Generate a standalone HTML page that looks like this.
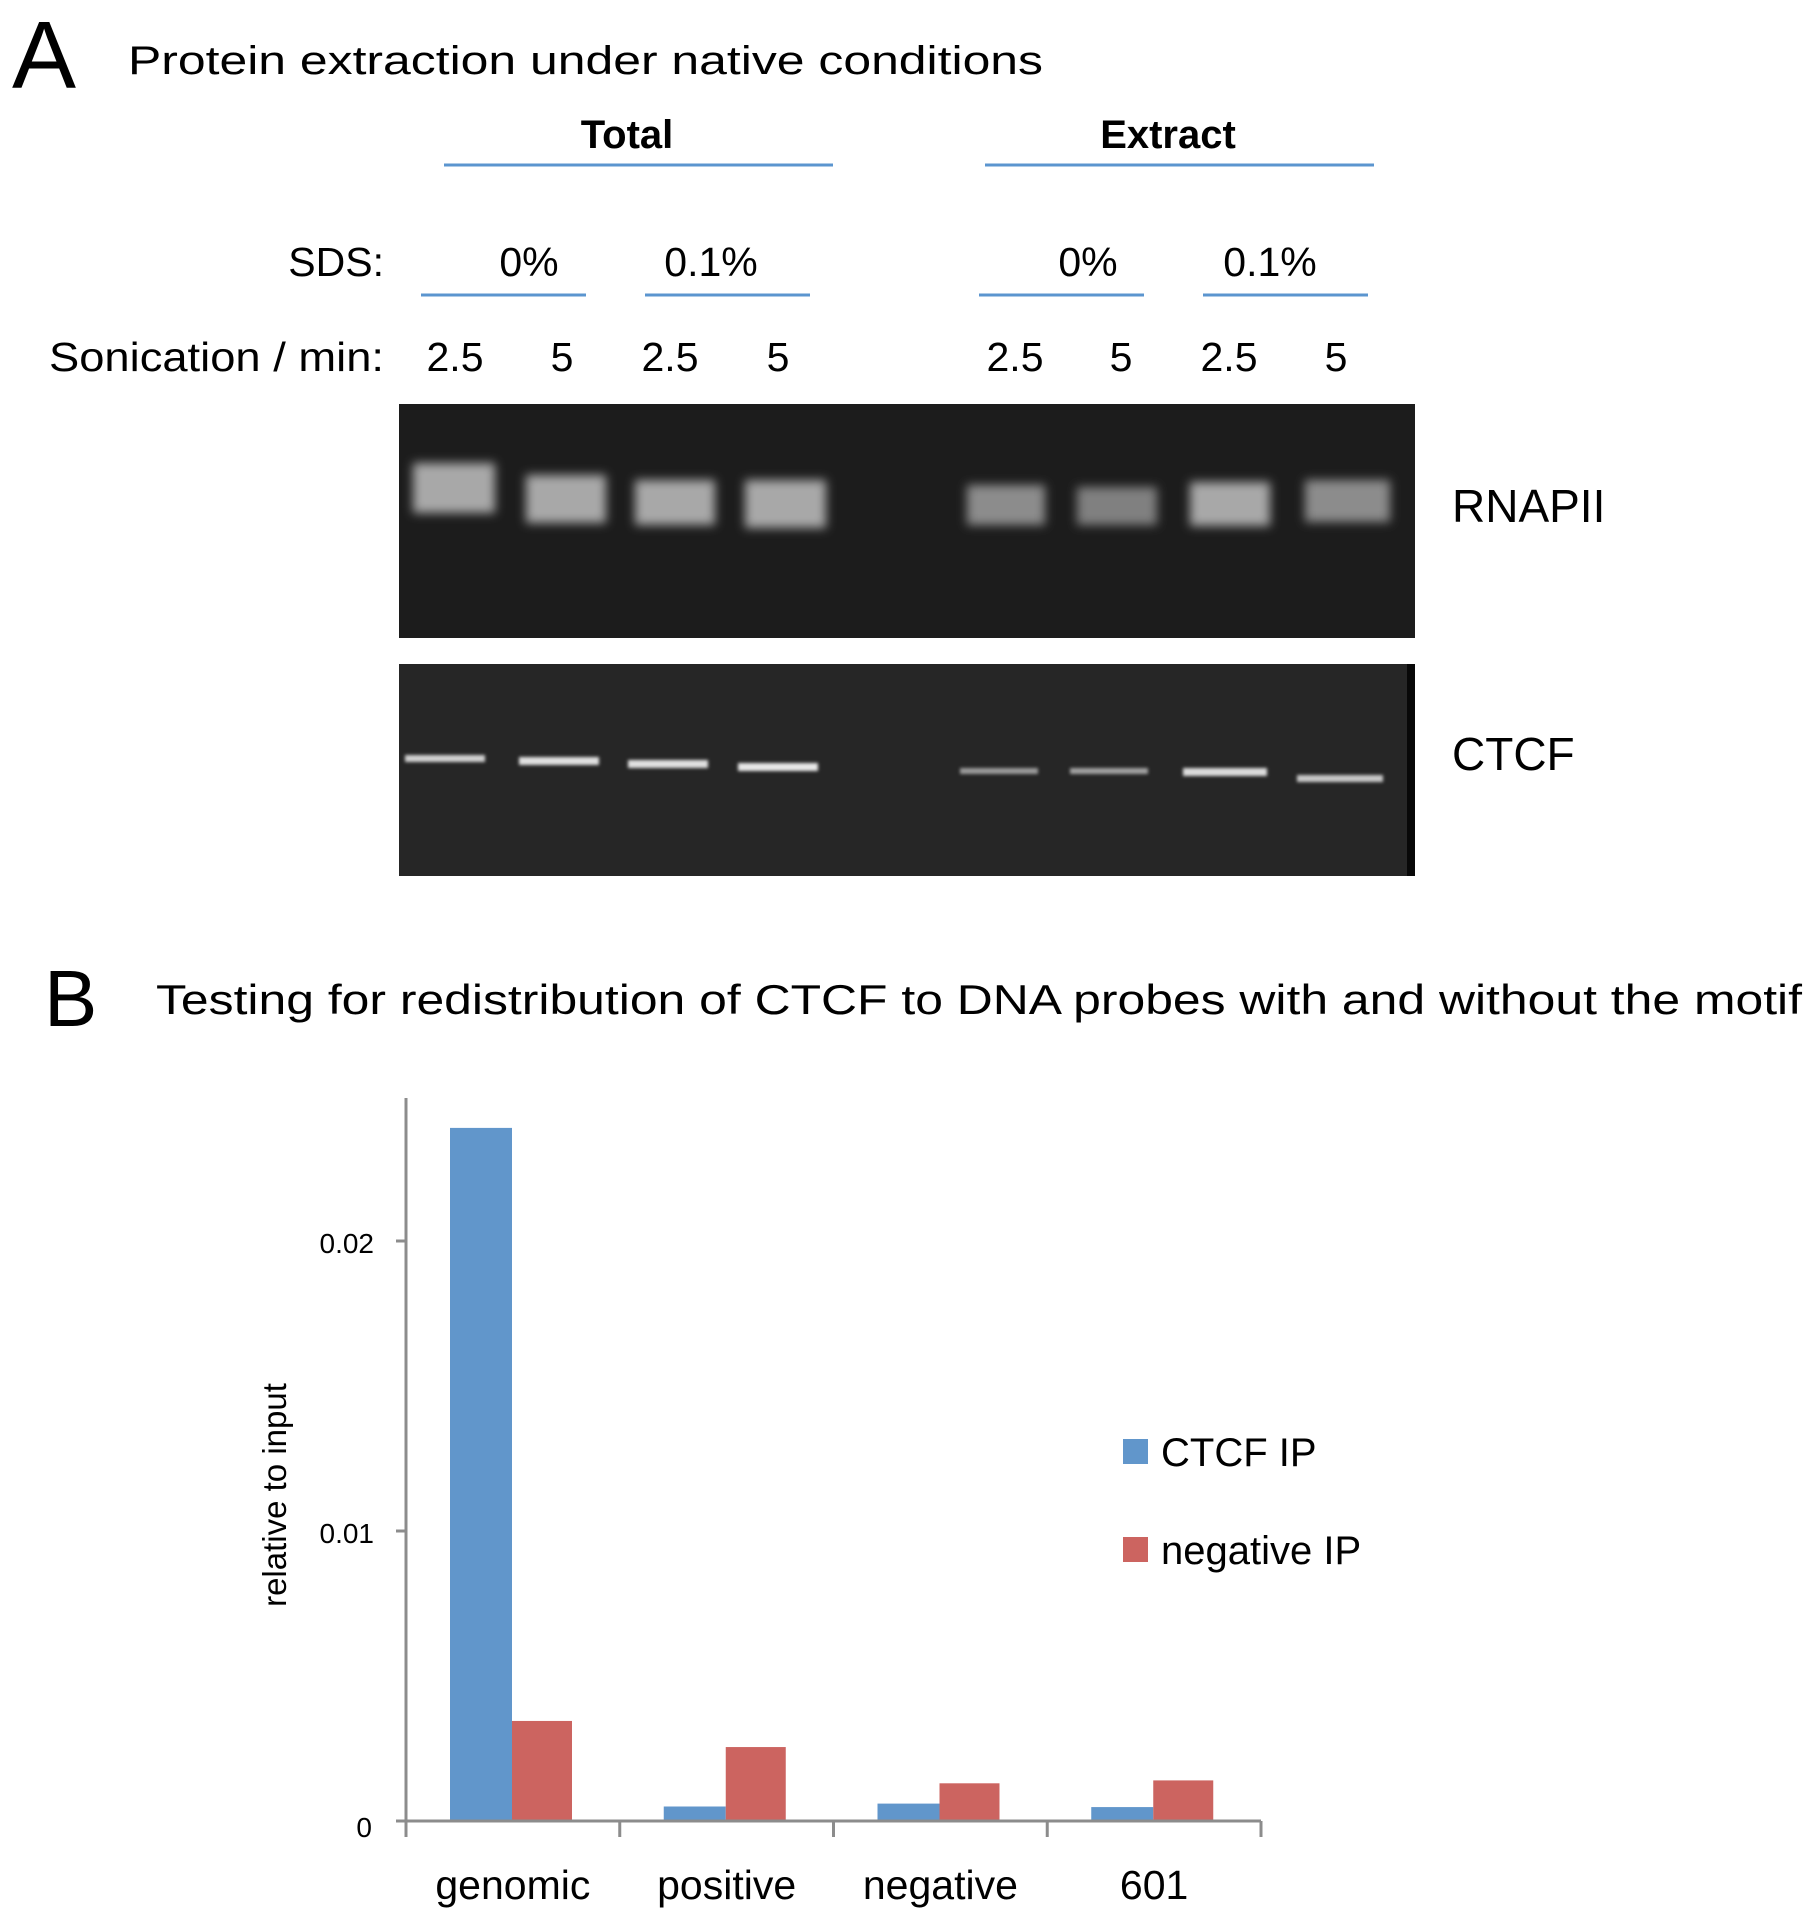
<!DOCTYPE html>
<html><head><meta charset="utf-8"><style>
html,body{margin:0;padding:0;background:#fff;}
svg{display:block;font-family:"Liberation Sans",sans-serif;}
</style></head><body>
<svg id="fig" width="1811" height="1923" viewBox="0 0 1811 1923" xmlns="http://www.w3.org/2000/svg">
<defs>
<filter id="blur6" x="-20%" y="-50%" width="140%" height="200%"><feGaussianBlur stdDeviation="5"/></filter>
<filter id="blur2" x="-10%" y="-100%" width="120%" height="300%"><feGaussianBlur stdDeviation="1.5"/></filter>
</defs>
<!-- Panel A -->
<text x="12" y="88" font-size="96">A</text>
<text x="128" y="74" font-size="40" textLength="915" lengthAdjust="spacingAndGlyphs">Protein extraction under native conditions</text>
<text x="627" y="148" font-size="40" font-weight="bold" text-anchor="middle">Total</text>
<text x="1168" y="148" font-size="40" font-weight="bold" text-anchor="middle">Extract</text>
<g stroke="#5b95cf" stroke-width="3">
<line x1="444" y1="165" x2="833" y2="165"/><line x1="985" y1="165" x2="1374" y2="165"/>
<line x1="421" y1="295" x2="586" y2="295"/><line x1="645" y1="295" x2="810" y2="295"/>
<line x1="979" y1="295" x2="1144" y2="295"/><line x1="1203" y1="295" x2="1368" y2="295"/>
</g>
<text x="384" y="276" font-size="41" text-anchor="end">SDS:</text>
<g font-size="41" text-anchor="middle">
<text x="529" y="276">0%</text><text x="711" y="276">0.1%</text>
<text x="1088" y="276">0%</text><text x="1270" y="276">0.1%</text>
</g>
<text x="49" y="371" font-size="41" textLength="335" lengthAdjust="spacingAndGlyphs">Sonication / min:</text>
<g font-size="41" text-anchor="middle">
<text x="455" y="371">2.5</text><text x="562" y="371">5</text><text x="670" y="371">2.5</text><text x="778" y="371">5</text>
<text x="1015" y="371">2.5</text><text x="1121" y="371">5</text><text x="1229" y="371">2.5</text><text x="1336" y="371">5</text>
</g>
<g>
<rect x="399" y="404" width="1016" height="234" fill="#1c1c1c"/>
<g filter="url(#blur6)" fill="#a8a8a8">
<rect x="413" y="463" width="82" height="50"/><rect x="526" y="475" width="80" height="48"/>
<rect x="635" y="480" width="80" height="45"/><rect x="745" y="480" width="81" height="48"/>
<rect x="967" y="485" width="78" height="40" fill="#8c8c8c"/><rect x="1077" y="487" width="80" height="38" fill="#808080"/>
<rect x="1190" y="482" width="80" height="44"/><rect x="1305" y="480" width="85" height="42" fill="#8c8c8c"/>
</g>
</g>
<text x="1452" y="522" font-size="46">RNAPII</text>
<g>
<rect x="399" y="664" width="1016" height="212" fill="#262626"/>
<rect x="1407" y="664" width="8" height="212" fill="#080808"/>
<g filter="url(#blur2)">
<rect x="405" y="755" width="80" height="7" fill="#d0d0d0"/><rect x="519" y="757" width="80" height="8" fill="#e0e0e0"/>
<rect x="628" y="760" width="80" height="8" fill="#e0e0e0"/><rect x="738" y="763" width="80" height="8" fill="#e8e8e8"/>
<rect x="960" y="768" width="78" height="6" fill="#9a9a9a"/><rect x="1070" y="768" width="78" height="6" fill="#a0a0a0"/>
<rect x="1183" y="768" width="84" height="8" fill="#dcdcdc"/><rect x="1297" y="775" width="86" height="7" fill="#c8c8c8"/>
</g>
</g>
<text x="1452" y="770" font-size="46">CTCF</text>
<!-- Panel B -->
<text x="44" y="1026" font-size="80">B</text>
<text x="156" y="1014" font-size="42" textLength="1646" lengthAdjust="spacingAndGlyphs">Testing for redistribution of CTCF to DNA probes with and without the motif</text>
<g id="chart"></g>
</svg>
<script>
const categories = ["genomic", "positive", "negative", "601"];
const ctcfIP = [0.0239, 0.0005, 0.0006, 0.00048];
const negativeIP = [0.00345, 0.00255, 0.0013, 0.0014];
const yTicks = [0, 0.01, 0.02];
const yTickLabels = ["0", "0.01", "0.02"];

const NS = "http://www.w3.org/2000/svg";
const g = document.getElementById("chart");
const x0 = 406, x1 = 1261, yZero = 1821, yTop = 1098;
const yScale = v => yZero - v * 29000;
const bandW = (x1 - x0) / categories.length;
const xBand = i => x0 + i * bandW;
function mk(tag, attrs, parent) {
  const e = document.createElementNS(NS, tag);
  for (const k in attrs) e.setAttribute(k, attrs[k]);
  (parent || g).appendChild(e);
  return e;
}
const barW = 62, off = 44;
categories.forEach((c, i) => {
  const bx = xBand(i) + off;
  const b1 = mk("rect", {x: bx, y: yScale(ctcfIP[i]), width: barW, height: yZero - yScale(ctcfIP[i]), fill: "#6196cb"});
  
  
  const b2 = mk("rect", {x: bx + barW, y: yScale(negativeIP[i]), width: barW - 2, height: yZero - yScale(negativeIP[i]), fill: "#cc6460"});
  
  
  const t = mk("text", {x: xBand(i) + bandW / 2, y: 1899, "font-size": 41, "text-anchor": "middle", fill: "#000"});
  t.textContent = c;
  
  
});
const ax = mk("line", {x1: x0, y1: yTop, x2: x0, y2: yZero + 3, stroke: "#8c8c8c", "stroke-width": 3});


const xa = mk("line", {x1: x0 - 10, y1: yZero, x2: x1, y2: yZero, stroke: "#8c8c8c", "stroke-width": 3});


for (let i = 0; i <= categories.length; i++) {
  const tk = mk("line", {x1: xBand(i), y1: yZero, x2: xBand(i), y2: yZero + 16, stroke: "#8c8c8c", "stroke-width": 3});
  
  
}
yTicks.forEach((v, i) => {
  const tk = mk("line", {x1: x0 - 10, y1: yScale(v), x2: x0, y2: yScale(v), stroke: "#8c8c8c", "stroke-width": 3});
  
  
  const t = mk("text", {x: i === 0 ? 372 : 374, y: yScale(v) + (i === 0 ? 16 : 12), "font-size": 28, "text-anchor": "end"});
  t.textContent = yTickLabels[i];
  
  
});
const yt = mk("text", {x: 0, y: 0, "font-size": 33, "text-anchor": "middle", transform: "translate(286,1495) rotate(-90)"});
yt.textContent = "relative to input";


const legend = [["CTCF IP", "#6196cb", 1439], ["negative IP", "#cc6460", 1537]];
legend.forEach(([label, col, y]) => {
  const r = mk("rect", {x: 1123, y: y, width: 25, height: 25, fill: col});
  
  
  const t = mk("text", {x: 1161, y: y + 27, "font-size": 40});
  t.textContent = label;
  
  
});
</script>
</body></html>
